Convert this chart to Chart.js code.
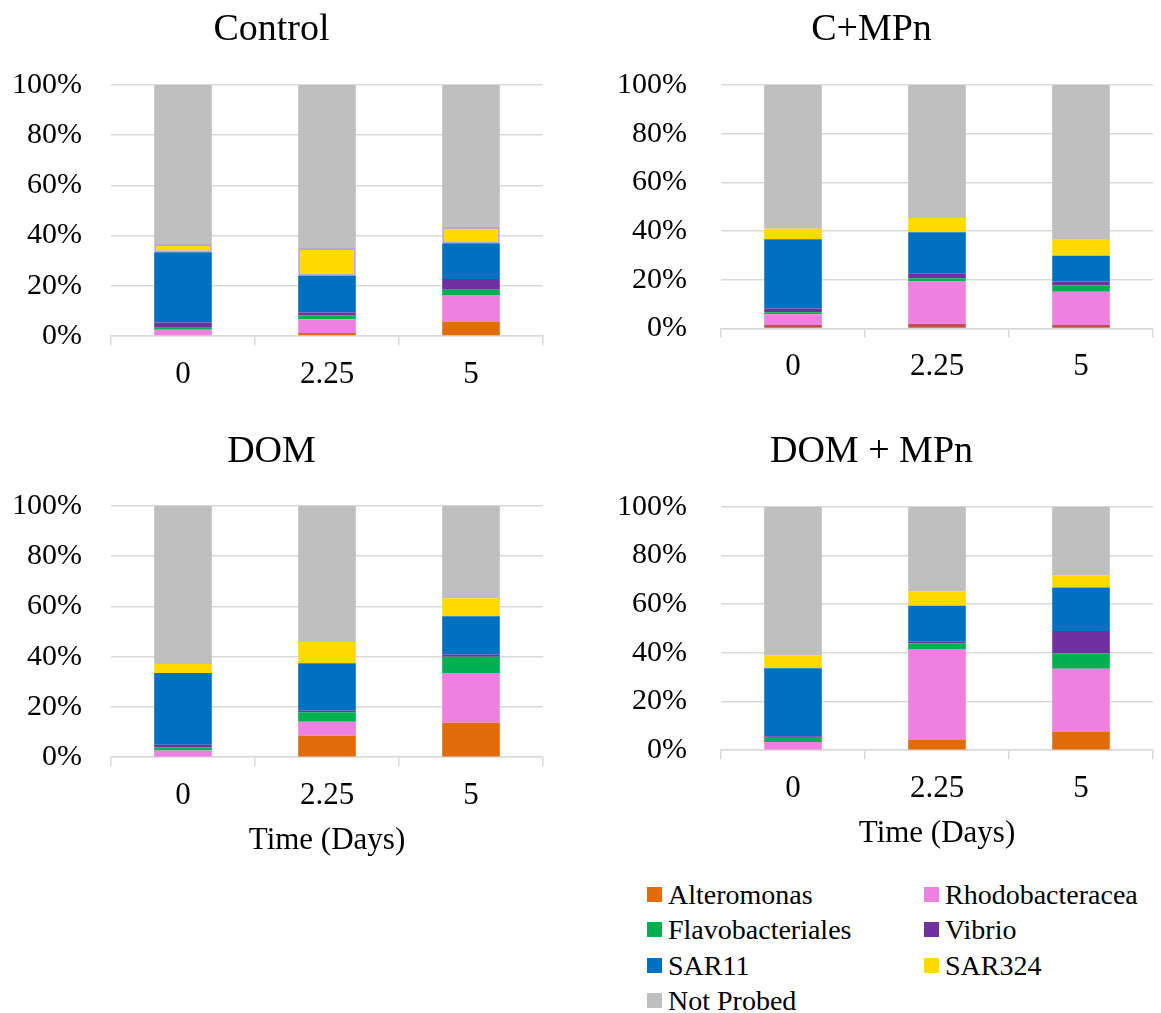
<!DOCTYPE html>
<html>
<head>
<meta charset="utf-8">
<title>Grupos probados</title>
<script src="https://cdn.jsdelivr.net/npm/chart.js@4.4.1/dist/chart.umd.min.js"></script>
<style>
  body { margin: 0; background: #fff; width: 1161px; height: 1013px; overflow: hidden; position: relative;
         font-family: "Liberation Serif", "Times New Roman", serif; color: #000; }
  canvas { position: absolute; }
  #leyenda { position: absolute; left: 647px; top: 877px; display: grid;
             grid-template-columns: 277px auto; font-size: 28px; line-height: 35.3px; }
  .item { display: flex; align-items: center; white-space: nowrap; }
  .caja { width: 15px; height: 15px; margin-right: 6px; flex: none; }
</style>
</head>
<body>
<canvas id="dom" width="560" height="450" style="left:0;top:420px"></canvas>
<canvas id="dommpn" width="571" height="450" style="left:590px;top:420px"></canvas>
<canvas id="control" width="560" height="410" style="left:0;top:0"></canvas>
<canvas id="cmpn" width="571" height="410" style="left:590px;top:0"></canvas>
<div id="leyenda"></div>
<script>
// Datos (% de la comunidad)
const tiempos = ["0", "2.25", "5"];
const grupos = ["Alteromonas", "Rhodobacteracea", "Flavobacteriales", "Vibrio", "SAR11", "SAR324", "Not Probed"];
const colores = ["#E36C0A", "#EE80E2", "#00B050", "#7030A0", "#0070C0", "#FFDA00", "#BFBFBF"];

// filas en el mismo orden que "grupos"
const control = [
  [0, 1.2, 5.6],
  [2.5, 5.5, 10.7],
  [0.8, 1.6, 2.1],
  [2.1, 1.1, 4.3],
  [28, 14.7, 14.3],
  [3.3, 11, 6.4],
  [63.3, 64.9, 56.6]
];
const cMasMPn = [
  [1.5, 1.9, 1.5],
  [4.4, 17.4, 13.6],
  [0.8, 1.4, 2.6],
  [1.5, 1.8, 1.6],
  [28.5, 17.1, 10.6],
  [4.3, 5.8, 6.6],
  [59, 54.6, 63.5]
];
const dom = [
  [0, 8.5, 13.7],
  [2.7, 5.6, 19.8],
  [1.2, 3.8, 6.5],
  [1.1, 0.7, 0.9],
  [28.5, 18.8, 15.2],
  [3.6, 8.5, 7.2],
  [62.9, 54.1, 36.7]
];
const domMasMPn = [
  [0, 4.2, 7.5],
  [3.4, 37.4, 25.9],
  [2, 2.2, 6.3],
  [0.3, 0.7, 9.3],
  [28, 14.8, 17.8],
  [5.3, 5.9, 5],
  [61, 34.8, 28.2]
];

Chart.defaults.font.family = "'Liberation Serif', 'Times New Roman', serif";
Chart.defaults.color = "#000";

function crearPanel(id, titulo, valores, cfg) {
  const datasets = valores.map((fila, i) => {
    const ds = {
      label: grupos[i],
      data: fila,
      backgroundColor: (cfg.colores || colores)[i],
      borderWidth: 0,
      barPercentage: 0.4,
      categoryPercentage: 1
    };
    // en Control las cajas de SAR324 tienen un contorno lila
    if (cfg.borde && grupos[i] === "SAR324") {
      ds.borderColor = "#B7A6D6";
      ds.borderWidth = 2;
      ds.borderSkipped = false;
    }
    return ds;
  });

  return new Chart(document.getElementById(id), {
    type: "bar",
    data: { labels: tiempos, datasets },
    options: {
      responsive: false,
      animation: false,
      layout: { padding: { left: 0, right: cfg.derecha, top: 0, bottom: cfg.abajo } },
      plugins: {
        legend: { display: false },
        tooltip: { enabled: false },
        title: {
          display: true,
          text: titulo,
          font: { size: 38, weight: "normal" },
          padding: { top: cfg.tituloArriba, bottom: cfg.tituloAbajo }
        }
      },
      scales: {
        x: {
          stacked: true,
          grid: { display: true, drawOnChartArea: false, offset: true, color: "#D9D9D9", lineWidth: 1.5, tickLength: 9 },
          border: { color: "#D9D9D9", width: 1.5 },
          ticks: { font: { size: 31 }, padding: 11 },
          title: {
            display: !!cfg.ejeX,
            text: "Time (Days)",
            font: { size: 31, lineHeight: 1 },
            padding: { top: 0, bottom: 0 }
          }
        },
        y: {
          stacked: true,
          min: 0,
          max: 100,
          grid: { color: "#D9D9D9", lineWidth: 1.5, drawTicks: false },
          border: { display: false },
          ticks: { stepSize: 20, font: { size: 30 }, padding: cfg.pad, callback: v => v + "%" },
          afterFit: escala => { escala.width = cfg.anchoY; }
        }
      }
    }
  });
}

crearPanel("control", "Control", control, {
  anchoY: 111, pad: 29, derecha: 17, abajo: 5.8, tituloArriba: 7.5, tituloAbajo: 31.9, borde: true
});
crearPanel("cmpn", "C+MPn", cMasMPn, {
  anchoY: 131, pad: 34, derecha: 8, abajo: 13.2, tituloArriba: 7.5, tituloAbajo: 31.9,
  colores: ["#C0504D"].concat(colores.slice(1))
});
crearPanel("dom", "DOM", dom, {
  anchoY: 111, pad: 29, derecha: 17, abajo: 13.6, tituloArriba: 9, tituloAbajo: 31.4, ejeX: true
});
crearPanel("dommpn", "DOM + MPn", domMasMPn, {
  anchoY: 131, pad: 34, derecha: 8, abajo: 20.6, tituloArriba: 9.2, tituloAbajo: 31.9, ejeX: true
});

// Leyenda comun en HTML, dos columnas
const leyenda = document.getElementById("leyenda");
grupos.forEach((nombre, i) => {
  const item = document.createElement("div");
  item.className = "item";
  item.innerHTML = `<span class="caja" style="background:${colores[i]}"></span>${nombre}`;
  leyenda.appendChild(item);
});
</script>
</body>
</html>
